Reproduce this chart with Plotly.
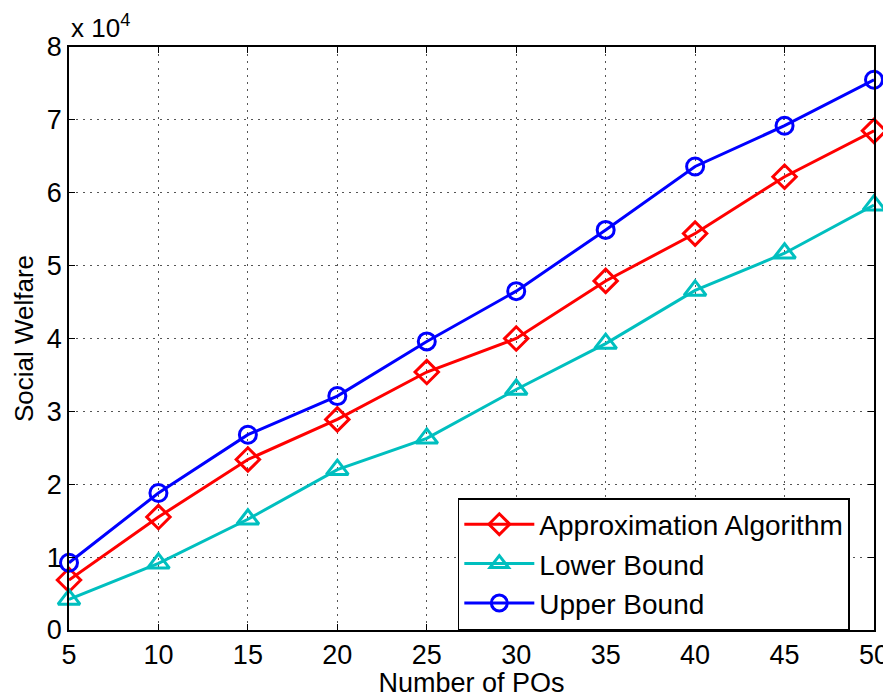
import plotly.graph_objects as go

x_pos = [5, 10, 15, 20, 25, 30, 35, 40, 45, 50]
approx = [0.686, 1.55, 2.34, 2.89, 3.54, 4.0, 4.79, 5.44, 6.22, 6.85]
lower = [0.42, 0.915, 1.52, 2.2, 2.63, 3.3, 3.93, 4.66, 5.17, 5.83]
upper = [0.923, 1.88, 2.68, 3.21, 3.96, 4.65, 5.49, 6.36, 6.92, 7.55]

FONT = "Liberation Sans, Arial, Helvetica, sans-serif"

fig = go.Figure()
fig.add_trace(go.Scatter(x=x_pos, y=approx, name="Approximation Algorithm",
                         mode="lines+markers", cliponaxis=False,
                         line=dict(color="#ff0000", width=3),
                         marker=dict(symbol="diamond-open", size=18, color="#ff0000",
                                     line=dict(width=3, color="#ff0000"))))
fig.add_trace(go.Scatter(x=x_pos, y=lower, name="Lower Bound",
                         mode="lines+markers", cliponaxis=False,
                         line=dict(color="#00bfbf", width=3),
                         marker=dict(symbol="triangle-up-open", size=19, color="#00bfbf",
                                     line=dict(width=3, color="#00bfbf"))))
fig.add_trace(go.Scatter(x=x_pos, y=upper, name="Upper Bound",
                         mode="lines+markers", cliponaxis=False,
                         line=dict(color="#0000ff", width=3),
                         marker=dict(symbol="circle-open", size=17, color="#0000ff",
                                     line=dict(width=3, color="#0000ff"))))

axis_common = dict(showline=True, linecolor="black", linewidth=1.5, mirror="ticks",
                   ticks="inside", ticklen=6, tickcolor="black",
                   showgrid=True, gridcolor="#555555", griddash="1.5px,5.5px", gridwidth=1,
                   zeroline=False, tickfont=dict(size=27, color="black", family=FONT))

fig.update_xaxes(range=[5, 50], tickvals=x_pos, automargin=False, **axis_common,
                 title=dict(text="Number of POs", font=dict(size=27, color="black", family=FONT),
                            standoff=0))
fig.update_yaxes(range=[0, 8], tickvals=[0, 1, 2, 3, 4, 5, 6, 7, 8], automargin=False,
                 **axis_common,
                 title=dict(text="Social Welfare", font=dict(size=26, color="black", family=FONT),
                            standoff=6))

fig.add_annotation(text="x 10<sup>4</sup>", xref="paper", yref="paper", x=0, y=1,
                   xanchor="left", yanchor="bottom", showarrow=False, yshift=2,
                   font=dict(size=26, color="black", family=FONT))

fig.update_layout(
    width=883, height=690,
    margin=dict(l=61, r=17, t=39, b=68),
    plot_bgcolor="white", paper_bgcolor="white",
    font=dict(family=FONT, color="black"),
    legend=dict(x=0.483, y=0.2264, xanchor="left", yanchor="top",
                bgcolor="white", bordercolor="black", borderwidth=1.5,
                font=dict(size=28, color="black", family=FONT),
                tracegroupgap=0, itemwidth=70),
    showlegend=True,
)

fig.write_html("out.html")
